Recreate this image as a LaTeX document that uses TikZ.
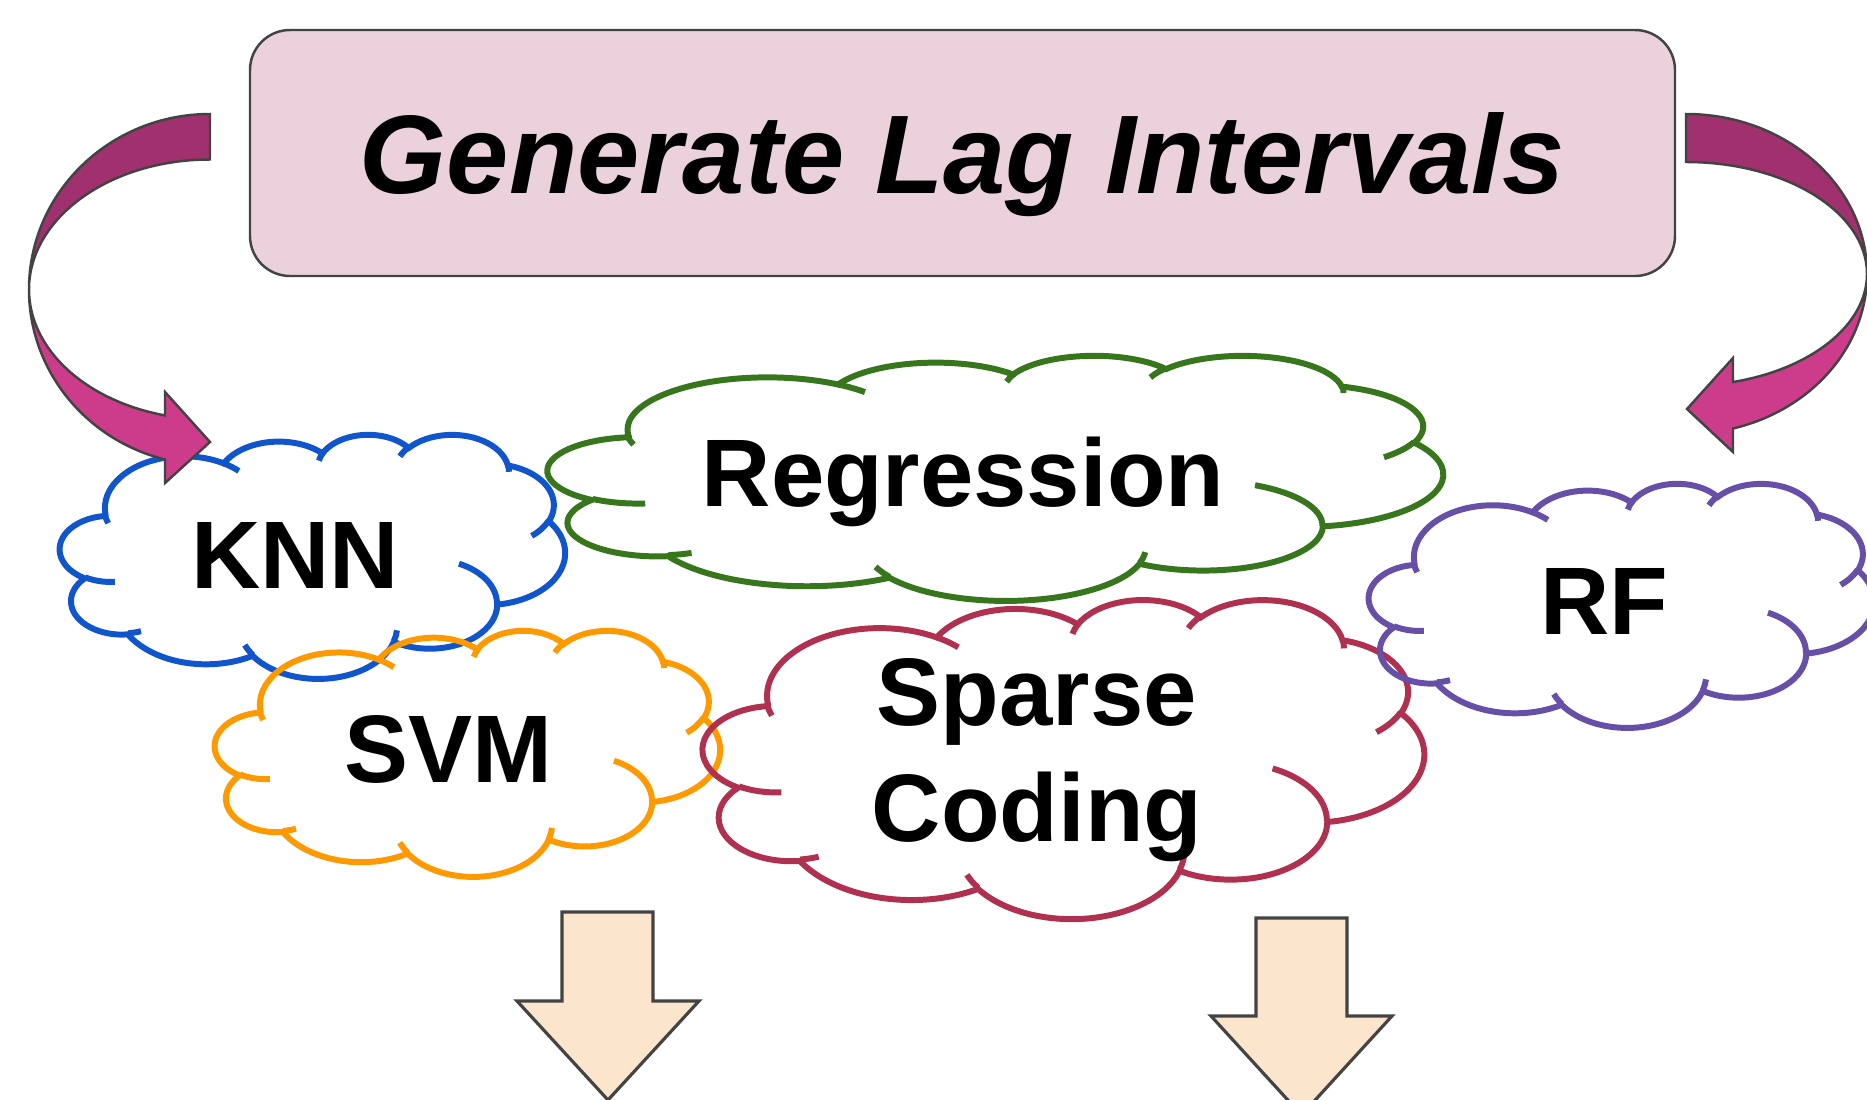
\documentclass[tikz,border=0pt]{standalone}
\usepackage{fontspec}
\setmainfont{Liberation Sans}

\definecolor{lagpink}{HTML}{EAD1DC}
\definecolor{bandback}{HTML}{A0306E}
\definecolor{bandfront}{HTML}{CC3C8B}
\definecolor{edgegray}{HTML}{434343}
\definecolor{downfill}{HTML}{FCE5CD}
\definecolor{knnblue}{HTML}{1155CC}
\definecolor{regrgreen}{HTML}{38761D}
\definecolor{svmorange}{HTML}{FF9900}
\definecolor{sparsered}{HTML}{B0314F}
\definecolor{rfpurple}{HTML}{674EA7}

% visual angle of an ellipse -> its parametric angle (same branch)
\pgfmathdeclarefunction{cpar}{3}{%
  \begingroup
    \pgfmathparse{atan2((#2)*sin(#1),(#3)*cos(#1))}%
    \pgfmathsetmacro\cparA{\pgfmathresult}%
    \pgfmathparse{\cparA+360*round(((#1)-\cparA)/360)}%
    \pgfmathsmuggle\pgfmathresult
  \endgroup}

\tikzset{puff/.style n args={4}{x radius=#1, y radius=#2,
    start angle={cpar(#3,#1,#2)}, end angle={cpar(#3+#4,#1,#2)}}}

% cloud outline: top left corner, width, height, colour
\newcommand\cloudline[5]{%
  \begin{scope}[shift={(#1,#2)}, xscale=#3/43.2, yscale=-#4/43.2,
      color=#5, line width=1.7pt]
    \draw (3.9,14.37) arc[puff={6.753}{9.19}{-190.4875}{123.7805}]
      arc[puff={5.333}{7.267}{-144.1024}{89.9452}]
      arc[puff={4.365}{5.945}{-145.8079}{99.723}]
      arc[puff={4.857}{6.595}{-130.9861}{117.2417}]
      arc[puff={5.333}{7.273}{-78.7089}{109.0269}]
      arc[puff={6.775}{9.22}{-46.2673}{130.269}]
      arc[puff={5.785}{7.867}{0.625}{114.0333}]
      arc[puff={6.752}{9.215}{22.4516}{115.1726}]
      arc[puff={7.72}{10.543}{66.2426}{75.711}]
      arc[puff={4.36}{5.918}{-274.9421}{146.7356}]
      arc[puff={4.345}{5.945}{-246.8285}{152.5189}] -- cycle;
    % the little inner hooks
    \draw (4.693,26.177) arc[puff={4.345}{5.945}{86.742}{26.4295}]
      (6.928,34.899) arc[puff={4.36}{5.918}{73.6105}{11.4475}]
      (16.478,39.09) arc[puff={6.752}{9.215}{137.6242}{14.0811}]
      (28.827,34.751) arc[puff={6.752}{9.215}{6.4533}{15.9984}]
      (34.129,22.954) arc[puff={5.785}{7.867}{-70.2924}{70.9174}]
      (41.798,15.354) arc[puff={5.333}{7.273}{30.318}{27.7515}]
      (38.324,5.426) arc[puff={4.857}{6.595}{-13.7443}{14.8589}]
      (29.078,3.952) arc[puff={4.857}{6.595}{-149.1815}{18.1954}]
      (22.141,4.72) arc[puff={4.365}{5.945}{-163.4943}{17.6864}]
      (14,5.192) arc[puff={6.753}{9.19}{-66.707}{12.3194}]
      (4.127,15.789) arc[puff={6.753}{9.19}{153.5261}{9.7421}];
  \end{scope}}

\begin{document}
\begin{tikzpicture}[
    lagbox/.style={draw=edgegray, fill=lagpink, line width=0.7pt,
      rounded corners=0.4cm, minimum width=14.25cm, minimum height=2.46cm,
      text depth=0pt, font=\fontsize{31.8}{36}\selectfont\bfseries\itshape},
    lbl/.style={inner sep=0pt, font=\fontsize{27.3}{33}\selectfont\bfseries},
    ribbon/.style={draw=edgegray, line width=0.7pt},
    down/.style={draw=edgegray, fill=downfill, line width=0.9pt}]
  \useasboundingbox (0,0) rectangle (18.67,-10.99);

  \node[lagbox] (lag) at (9.625,-1.53) {Generate Lag Intervals};

  % clouds
  \cloudline{0.60}{-4.34}{5.05}{2.44}{knnblue}
  \cloudline{5.48}{-3.55}{8.95}{2.45}{regrgreen}
  \cloudline{2.15}{-6.30}{5.05}{2.46}{svmorange}
  \cloudline{7.03}{-5.99}{7.21}{3.19}{sparsered}
  \cloudline{13.69}{-4.83}{5.05}{2.44}{rfpurple}

  \node[lbl, anchor=base] (knn) at (2.95,-5.88) {KNN};
  \node[lbl, anchor=base] (regr) at (9.63,-5.06) {Regression};
  \node[lbl, anchor=base] (svm) at (4.48,-7.82) {SVM};
  \node[lbl, align=center] (sparse) at (10.37,-7.60) {Sparse\\Coding};
  \node[lbl, anchor=base] (rf) at (16.04,-6.34) {RF};

  % curved arrow on the left
  \draw[ribbon, fill=bandback] (2.10,-1.14)
    arc[start angle=90, end angle=180, x radius=1.81, y radius=1.755]
    arc[start angle=180, end angle=90, x radius=1.81, y radius=1.30] -- cycle;
  \draw[ribbon, fill=bandfront] (0.29,-2.895)
    arc[start angle=180, end angle=255.6, x radius=1.81, y radius=1.755]
    -- (1.65,-4.83) -- (2.10,-4.42) -- (1.65,-3.92) -- (1.65,-4.154)
    arc[start angle=255.6, end angle=180, x radius=1.81, y radius=1.30] -- cycle;

  % curved arrow on the right
  \draw[ribbon, fill=bandback] (16.86,-1.14)
    arc[start angle=90, end angle=0, x radius=1.81, y radius=1.60]
    arc[start angle=0, end angle=90, x radius=1.81, y radius=1.12] -- cycle;
  \draw[ribbon, fill=bandfront] (18.67,-2.74)
    arc[start angle=0, end angle=-74.95, x radius=1.81, y radius=1.60]
    -- (17.33,-4.52) -- (16.87,-4.09) -- (17.33,-3.58) -- (17.33,-3.82)
    arc[start angle=-74.95, end angle=0, x radius=1.81, y radius=1.12] -- cycle;

  % arrows down
  \draw[down] (5.62,-9.12) -- (6.53,-9.12) -- (6.53,-10.01) -- (6.99,-10.01)
    -- (6.08,-11.00) -- (5.17,-10.01) -- (5.62,-10.01) -- cycle;
  \draw[down] (12.56,-9.18) -- (13.47,-9.18) -- (13.47,-10.16) -- (13.92,-10.16)
    -- (13.015,-11.15) -- (12.11,-10.16) -- (12.56,-10.16) -- cycle;
\end{tikzpicture}
\end{document}
